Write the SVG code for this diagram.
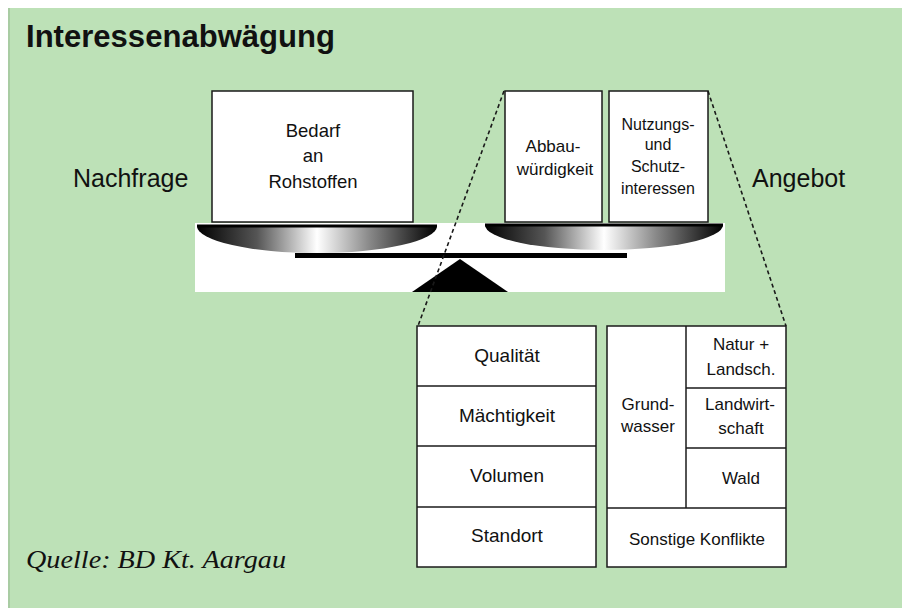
<svg xmlns="http://www.w3.org/2000/svg" width="902" height="608" viewBox="0 0 902 608">
<defs>
<linearGradient id="pan" x1="0" y1="0" x2="1" y2="0">
<stop offset="0" stop-color="#000"/>
<stop offset="0.25" stop-color="#555"/>
<stop offset="0.5" stop-color="#fff"/>
<stop offset="0.72" stop-color="#888"/>
<stop offset="1" stop-color="#000"/>
</linearGradient>
<style>
.box{fill:#fff;stroke:#1a1a1a;stroke-width:1.5}
.ln{stroke:#1a1a1a;stroke-width:1.5;fill:none}
.t{font-family:"Liberation Sans",Arial,sans-serif;fill:#111;text-anchor:middle}
.t18{font-size:18.5px}
.t17{font-size:17px}
.t19{font-size:19px}
.big{font-family:"Liberation Sans",Arial,sans-serif;font-size:25px;fill:#111}
.dash{stroke:#1a1a1a;stroke-width:1.6;stroke-dasharray:4 3;fill:none}
</style>
</defs>
<rect x="0" y="0" width="902" height="608" fill="#fff"/>
<rect x="8" y="8" width="894" height="600" fill="#bde1b7"/>
<line x1="9" y1="8" x2="9" y2="608" stroke="#a9cca3" stroke-width="2"/>

<text x="26" y="47" font-family="Liberation Sans,Arial,sans-serif" font-weight="bold" font-size="32" fill="#111" textLength="309" lengthAdjust="spacingAndGlyphs">Interessenabwägung</text>

<g id="scale">
<rect x="195" y="223" width="530" height="69" fill="#fff"/>
<path d="M197,226 H437 A120,27 0 0 1 197,226 Z" fill="url(#pan)"/>
<line x1="197" y1="226" x2="437" y2="226" stroke="#000" stroke-width="3"/>
<path d="M485,225 H723 A119,25 0 0 1 485,225 Z" fill="url(#pan)"/>
<line x1="485" y1="225" x2="723" y2="225" stroke="#000" stroke-width="3"/>
<rect x="295" y="253" width="332" height="5" fill="#000"/>
<path d="M460,259 L508,292 L412,292 Z" fill="#000"/>
</g>

<g id="nachfrage"><text class="big" x="73" y="187">Nachfrage</text></g>
<g id="angebot"><text class="big" x="752" y="187">Angebot</text></g>

<g id="bedarf">
<rect class="box" x="212" y="91" width="201" height="131"/>
<text class="t t18" x="313" y="137">Bedarf</text>
<text class="t t18" x="313" y="162">an</text>
<text class="t t18" x="313" y="188">Rohstoffen</text>
</g>

<g id="abbau">
<rect class="box" x="505" y="91" width="97" height="131"/>
<text class="t t17" x="553" y="152">Abbau-</text>
<text class="t t17" x="555" y="175">würdigkeit</text>
</g>

<g id="nutzung">
<rect class="box" x="609" y="91" width="99" height="131"/>
<text class="t" font-size="16" x="658" y="130">Nutzungs-</text>
<text class="t" font-size="16" x="658" y="150">und</text>
<text class="t" font-size="16" x="658" y="172">Schutz-</text>
<text class="t" font-size="16" x="658" y="194">interessen</text>
</g>

<g id="connectors">
<line class="dash" x1="504" y1="91" x2="418" y2="326"/>
<line class="dash" x1="708" y1="91" x2="786" y2="326"/>
</g>

<g id="abbau-detail">
<rect class="box" x="417" y="326" width="179" height="241"/>
<line class="ln" x1="417" y1="386" x2="596" y2="386"/>
<line class="ln" x1="417" y1="446" x2="596" y2="446"/>
<line class="ln" x1="417" y1="507" x2="596" y2="507"/>
<text class="t t19" x="507" y="362">Qualität</text>
<text class="t t19" x="507" y="422">Mächtigkeit</text>
<text class="t t19" x="507" y="482">Volumen</text>
<text class="t t19" x="507" y="542">Standort</text>
</g>

<g id="nutzung-detail">
<rect class="box" x="607" y="326" width="179" height="241"/>
<line class="ln" x1="686" y1="326" x2="686" y2="508"/>
<line class="ln" x1="607" y1="508" x2="786" y2="508"/>
<line class="ln" x1="686" y1="388" x2="786" y2="388"/>
<line class="ln" x1="686" y1="448" x2="786" y2="448"/>
<text class="t t17" x="648" y="410">Grund-</text>
<text class="t t17" x="648" y="432">wasser</text>
<text class="t t17" x="741" y="350">Natur +</text>
<text class="t t17" x="741" y="375">Landsch.</text>
<text class="t t17" x="740" y="410">Landwirt-</text>
<text class="t t17" x="741" y="434">schaft</text>
<text class="t t17" x="741" y="484">Wald</text>
<text class="t t17" x="697" y="545">Sonstige Konflikte</text>
</g>

<g id="quelle"><text x="26" y="568" font-family="Liberation Serif,Times New Roman,serif" font-style="italic" font-size="26" fill="#111" textLength="260" lengthAdjust="spacingAndGlyphs">Quelle: BD Kt. Aargau</text></g>
</svg>
